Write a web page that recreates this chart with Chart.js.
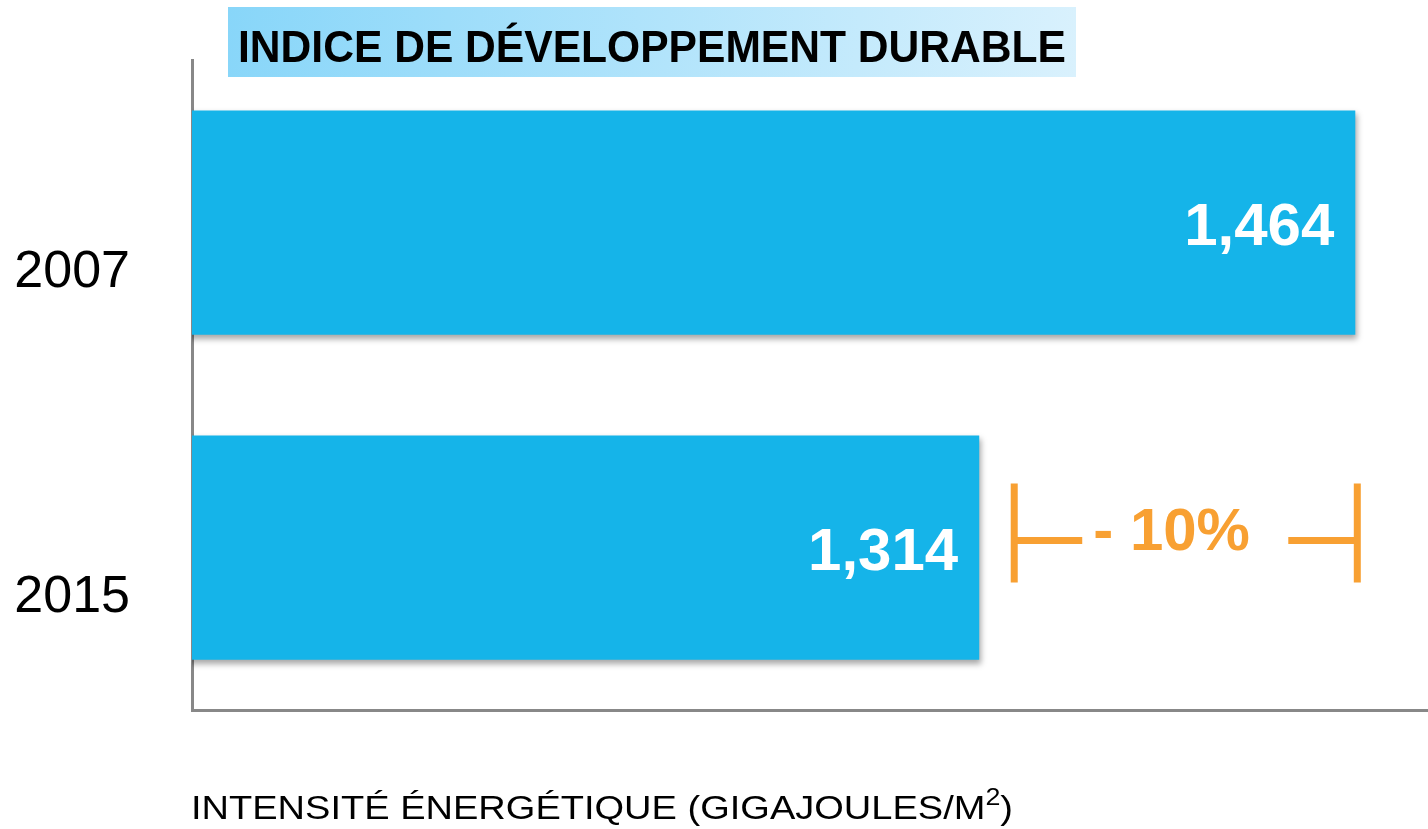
<!DOCTYPE html>
<html>
<head>
<meta charset="utf-8">
<script src="https://cdn.jsdelivr.net/npm/chart.js@4"></script>
<style>
  html, body { margin: 0; padding: 0; background: #fff; }
  #wrap { width: 1428px; height: 829px; }
</style>
</head>
<body>
<div id="wrap"><canvas id="chart" width="1428" height="829"></canvas></div>
<script>
  // data
  const years = ['2007', '2015'];
  const intensity = [1.464, 1.314];
  const valueLabels = ['1,464', '1,314'];
  const changeLabel = '- 10%';
  const chartTitle = 'INDICE DE DÉVELOPPEMENT DURABLE';
  const axisTitle = 'INTENSITÉ ÉNERGÉTIQUE (GIGAJOULES/M';
  const axisTitleSup = '2';
  const axisTitleEnd = ')';

  const BAR_BLUE = '#15b4e9';
  const ORANGE = '#f8a032';
  const AXIS_GREY = '#888888';
  const FONT = '"Liberation Sans", Arial, sans-serif';

  // draws title box, axis title, bar shadows, value labels and the -10% bracket
  const decorations = {
    id: 'decorations',
    beforeDraw(chart) {
      const ctx = chart.ctx;
      ctx.save();
      const g = ctx.createLinearGradient(228, 7, 1076, 77);
      g.addColorStop(0, '#88d6f9');
      g.addColorStop(1, '#d9f1fd');
      ctx.fillStyle = g;
      ctx.fillRect(228, 7, 848, 70);

      ctx.font = 'bold 45px ' + FONT;
      ctx.fillStyle = '#000';
      ctx.textBaseline = 'alphabetic';
      const w = ctx.measureText(chartTitle).width;
      ctx.translate(238, 62);
      ctx.scale(828 / w, 1);
      ctx.fillText(chartTitle, 0, 0);
      ctx.restore();

      // x axis title, with superscript
      const area = chart.chartArea;
      ctx.save();
      ctx.fillStyle = '#000';
      ctx.textBaseline = 'alphabetic';
      ctx.font = '34px ' + FONT;
      const w1 = ctx.measureText(axisTitle).width;
      const w3 = ctx.measureText(axisTitleEnd).width;
      ctx.font = '24px ' + FONT;
      const w2 = ctx.measureText(axisTitleSup).width;
      const total = w1 + w2 + w3;
      ctx.translate(area.left - 1, 819);
      ctx.scale(822 / total, 1);
      ctx.font = '34px ' + FONT;
      ctx.fillText(axisTitle, 0, 0);
      ctx.fillText(axisTitleEnd, w1 + w2, 0);
      ctx.font = '24px ' + FONT;
      ctx.fillText(axisTitleSup, w1, -14);
      ctx.restore();
    },
    beforeDatasetDraw(chart) {
      const ctx = chart.ctx;
      ctx.save();
      ctx.shadowColor = 'rgba(0,0,0,0.35)';
      ctx.shadowBlur = 6;
      ctx.shadowOffsetX = 2;
      ctx.shadowOffsetY = 4;
    },
    afterDatasetDraw(chart) {
      chart.ctx.restore();
    },
    afterDatasetsDraw(chart) {
      const ctx = chart.ctx;
      const meta = chart.getDatasetMeta(0);
      ctx.save();
      ctx.font = 'bold 60px ' + FONT;
      ctx.fillStyle = '#fff';
      ctx.textAlign = 'right';
      ctx.textBaseline = 'alphabetic';
      meta.data.forEach((bar, i) => {
        ctx.fillText(valueLabels[i], bar.x - 21, bar.y + 22);
      });

      // bracket between 2015 and 2007 values
      const xs = chart.scales.x;
      const bar2 = meta.data[1];
      const left = xs.getPixelForValue(intensity[1]) + 35;
      const right = xs.getPixelForValue(intensity[0]) + 2;
      const midY = bar2.y - 7;
      ctx.strokeStyle = ORANGE;
      ctx.lineWidth = 7;
      ctx.beginPath();
      ctx.moveTo(left, midY - 57); ctx.lineTo(left, midY + 42);
      ctx.moveTo(left, midY); ctx.lineTo(left + 68, midY);
      ctx.moveTo(right - 69, midY); ctx.lineTo(right, midY);
      ctx.moveTo(right, midY - 57); ctx.lineTo(right, midY + 42);
      ctx.stroke();

      ctx.fillStyle = ORANGE;
      ctx.textAlign = 'left';
      ctx.fillText(changeLabel, left + 79, midY + 9);
      ctx.restore();
    }
  };

  new Chart(document.getElementById('chart'), {
    type: 'bar',
    data: {
      labels: years,
      datasets: [{
        data: intensity,
        backgroundColor: BAR_BLUE,
        borderWidth: 0,
        barPercentage: 0.69,
        categoryPercentage: 1
      }]
    },
    options: {
      indexAxis: 'y',
      responsive: false,
      animation: false,
      layout: { padding: { top: 60, left: 0, right: 0, bottom: 0 } },
      plugins: {
        legend: { display: false },
        tooltip: { enabled: false }
      },
      scales: {
        x: {
          min: 1,
          max: 1.493,
          grid: { display: false },
          border: { color: AXIS_GREY, width: 3 },
          ticks: { display: false },
          afterFit(s) { s.height = 119; s.paddingLeft = 0; s.paddingRight = 0; }
        },
        y: {
          grid: { display: false },
          border: { color: AXIS_GREY, width: 3 },
          afterFit(s) { s.width = 192; s.paddingTop = 0; s.paddingBottom = 0; },
          ticks: {
            color: '#000',
            font: { family: FONT, size: 52 },
            padding: 54,
            labelOffset: 50
          }
        }
      }
    },
    plugins: [decorations]
  });
</script>
</body>
</html>
